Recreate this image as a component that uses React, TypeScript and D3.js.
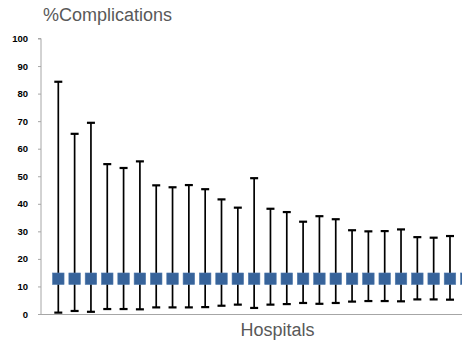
import React, { useEffect, useRef } from "react";
import * as d3 from "d3";

// one entry per hospital (last one is cut off at the right edge)
const hospitals = d3.range(1, 27).map((i) => `H${i}`);
const means = [
  12.8, 12.8, 12.8, 12.8, 12.8, 12.8, 12.8, 12.8, 12.8, 12.8, 12.8, 12.8, 12.8,
  12.8, 12.8, 12.8, 12.8, 12.8, 12.8, 12.8, 12.8, 12.8, 12.8, 12.8, 12.8, 12.8,
];
const upper = [
  84.3, 65.4, 69.4, 54.4, 53, 55.4, 46.7, 46, 46.8, 45.3, 41.6, 38.6, 49.3,
  38.2, 37, 33.5, 35.5, 34.4, 30.4, 30, 30.1, 30.7, 27.9, 27.7, 28.3, 28,
];
const lower = [
  0.5, 1.1, 0.8, 1.8, 1.8, 1.7, 2.4, 2.4, 2.4, 2.5, 3.0, 3.4, 2.2, 3.4, 3.6,
  4.0, 3.7, 4.0, 4.5, 4.7, 4.7, 4.6, 5.3, 5.3, 5.2, 5.4,
];
const yTicks = [0, 10, 20, 30, 40, 50, 60, 70, 80, 90, 100];

export default function App() {
  const svgRef = useRef<SVGSVGElement>(null);

  useEffect(() => {
    const width = 462;
    const height = 341;
    const left = 41;
    const y0 = 314;
    const y100 = 38.5;

    const svg = d3.select(svgRef.current);
    svg.selectAll("*").remove();

    const x = d3
      .scalePoint<string>()
      .domain(hospitals)
      .range([58.3, 58.3 + 16.32 * (hospitals.length - 1)]);

    const y = d3.scaleLinear().domain([0, 100]).range([y0, y100]);

    // y axis
    const yAxis = svg
      .append("g")
      .attr("transform", `translate(${left},0)`)
      .call(
        d3
          .axisLeft(y)
          .tickValues(yTicks)
          .tickSize(3)
          .tickPadding(10)
          .tickFormat(d3.format("d"))
      );
    yAxis.selectAll("path, line").attr("stroke", "#a6a6a6");
    yAxis
      .selectAll("text")
      .attr("fill", "#000")
      .style("font-family", "Liberation Sans, Arial, sans-serif")
      .style("font-size", "9.5px")
      .style("font-weight", "bold");
    yAxis.select(".domain").attr("d", `M-3,${y100}H0V${y0}`);

    // x axis line
    svg
      .append("line")
      .attr("x1", left)
      .attr("x2", width)
      .attr("y1", y0 + 0.5)
      .attr("y2", y0 + 0.5)
      .attr("stroke", "#a6a6a6")
      .attr("stroke-width", 1);

    const g = svg.append("g");
    const idx = d3.range(hospitals.length);

    // whiskers
    g.selectAll("line.whisker")
      .data(idx)
      .enter()
      .append("line")
      .attr("class", "whisker")
      .attr("x1", (i) => x(hospitals[i])!)
      .attr("x2", (i) => x(hospitals[i])!)
      .attr("y1", (i) => y(lower[i]))
      .attr("y2", (i) => y(upper[i]))
      .attr("stroke", "#000")
      .attr("stroke-width", 1.7);

    [upper, lower].forEach((vals) => {
      g.selectAll(null)
        .data(idx)
        .enter()
        .append("line")
        .attr("x1", (i) => x(hospitals[i])! - 4)
        .attr("x2", (i) => x(hospitals[i])! + 4)
        .attr("y1", (i) => y(vals[i]))
        .attr("y2", (i) => y(vals[i]))
        .attr("stroke", "#000")
        .attr("stroke-width", 2.2);
    });

    // mean markers
    const s = 11.5;
    g.selectAll("rect")
      .data(idx)
      .enter()
      .append("rect")
      .attr("x", (i) => x(hospitals[i])! - s / 2)
      .attr("y", (i) => y(means[i]) - s / 2)
      .attr("width", s)
      .attr("height", s)
      .attr("fill", "#37639a")
      .attr("stroke", "#4f79ab")
      .attr("stroke-width", 0.6);

    // titles
    svg
      .append("text")
      .attr("x", 43)
      .attr("y", 21)
      .attr("fill", "#595959")
      .style("font-family", "Liberation Sans, Arial, sans-serif")
      .style("font-size", "18px")
      .text("%Complications");

    svg
      .append("text")
      .attr("x", 277.5)
      .attr("y", 335.5)
      .attr("text-anchor", "middle")
      .attr("fill", "#595959")
      .style("font-family", "Liberation Sans, Arial, sans-serif")
      .style("font-size", "18px")
      .text("Hospitals");

    svg.attr("width", width).attr("height", height);
  }, []);

  return (
    <svg
      ref={svgRef}
      width={462}
      height={341}
      style={{ position: "absolute", left: 0, top: 0, background: "#fff" }}
    />
  );
}
